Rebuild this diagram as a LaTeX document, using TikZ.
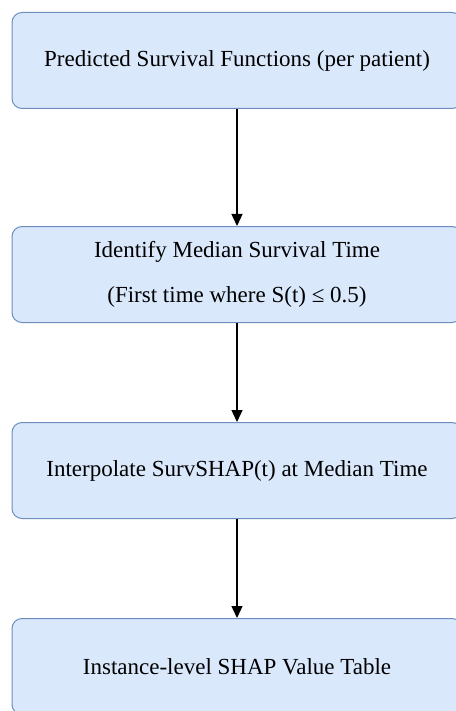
\documentclass[tikz,border=0pt]{standalone}
\usepackage{fontspec}
\setmainfont{Liberation Serif}
\usetikzlibrary{arrows.meta}
\definecolor{boxfill}{HTML}{DAE8FC}
\definecolor{boxline}{HTML}{6C8EBF}
\begin{document}
\begin{tikzpicture}[x=1pt,y=-1pt,
  stepbox/.style={draw=boxline, fill=boxfill, line width=1pt, rounded corners=10pt,
    minimum width=450pt, minimum height=96pt, inner sep=0pt, anchor=north,
    font=\fontsize{23}{45}\selectfont, align=center},
  flow/.style={-{Triangle[length=12pt,width=11pt]}, line width=1.3pt, black}]
\useasboundingbox (0,0) rectangle (455,711);
\node[stepbox] (pred) at (237,12) {Predicted Survival Functions (per patient)};
\node[stepbox] (median) at (237,226) {Identify Median Survival Time\\(First time where S(t) ≤ 0.5)};
\node[stepbox] (interp) at (237,422) {Interpolate SurvSHAP(t) at Median Time};
\node[stepbox] (table) at (237,618) {Instance-level SHAP Value Table};
\draw[flow] (pred) -- (median);
\draw[flow] (median) -- (interp);
\draw[flow] (interp) -- (table);
\end{tikzpicture}
\end{document}
